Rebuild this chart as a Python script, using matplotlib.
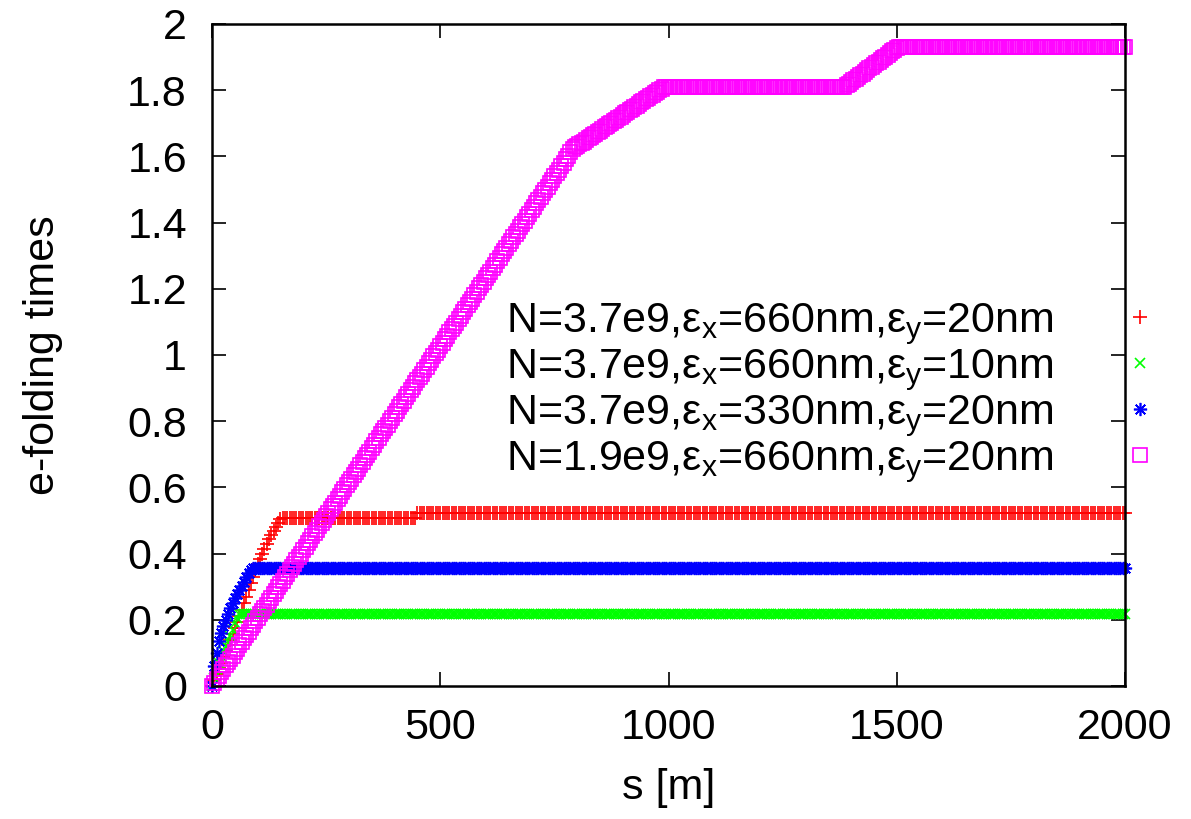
import numpy as np
import matplotlib
matplotlib.use("Agg")
import matplotlib.pyplot as plt

plt.rcParams['font.family'] = ['Liberation Sans', 'DejaVu Sans']
plt.rcParams['mathtext.fontset'] = 'custom'
plt.rcParams['mathtext.rm'] = 'Liberation Sans'
plt.rcParams['mathtext.it'] = 'Liberation Sans'

# sampling positions along s [m]
s = np.arange(0, 2001, 5)

# N=3.7e9, ex=660nm, ey=20nm
red_vals = ([0, 0.018, 0.035, 0.053, 0.07, 0.088, 0.105, 0.123, 0.14, 0.158,
             0.175, 0.193, 0.21, 0.23, 0.25, 0.27, 0.29, 0.31, 0.33, 0.35,
             0.37, 0.385, 0.40, 0.415, 0.43, 0.443, 0.455, 0.468, 0.48, 0.493, 0.505]
            + [0.508] * 59 + [0.523] * 311)

# N=3.7e9, ex=660nm, ey=10nm
green_vals = ([0, 0.025, 0.05, 0.07, 0.09, 0.105, 0.12, 0.135, 0.15, 0.17, 0.19, 0.205]
              + [0.218] * 389)

# N=3.7e9, ex=330nm, ey=20nm
blue_vals = ([0, 0.06, 0.1, 0.135, 0.16, 0.18, 0.2, 0.218, 0.235, 0.25, 0.265, 0.278,
              0.29, 0.303, 0.315, 0.328, 0.34, 0.35]
             + [0.357] * 383)

# N=1.9e9, ex=660nm, ey=20nm
magenta_vals = ([0.000, 0.010, 0.021, 0.031, 0.041, 0.051, 0.062, 0.072, 0.082, 0.092,
                 0.103, 0.113, 0.123, 0.133, 0.144, 0.154, 0.164, 0.175, 0.185, 0.195,
                 0.205, 0.216, 0.226, 0.236, 0.246, 0.257, 0.267, 0.277, 0.287, 0.298,
                 0.308, 0.318, 0.328, 0.339, 0.349, 0.359, 0.370, 0.380, 0.390, 0.400,
                 0.411, 0.421, 0.431, 0.441, 0.452, 0.462, 0.472, 0.482, 0.493, 0.503,
                 0.513, 0.524, 0.534, 0.544, 0.554, 0.565, 0.575, 0.585, 0.595, 0.606,
                 0.616, 0.626, 0.636, 0.647, 0.657, 0.667, 0.678, 0.688, 0.698, 0.708,
                 0.719, 0.729, 0.739, 0.749, 0.760, 0.770, 0.780, 0.790, 0.801, 0.811,
                 0.821, 0.831, 0.842, 0.852, 0.862, 0.873, 0.883, 0.893, 0.903, 0.914,
                 0.924, 0.934, 0.944, 0.955, 0.965, 0.975, 0.985, 0.996, 1.006, 1.016,
                 1.027, 1.037, 1.047, 1.057, 1.068, 1.078, 1.088, 1.098, 1.109, 1.119,
                 1.129, 1.139, 1.150, 1.160, 1.170, 1.180, 1.191, 1.201, 1.211, 1.222,
                 1.232, 1.242, 1.252, 1.263, 1.273, 1.283, 1.293, 1.304, 1.314, 1.324,
                 1.334, 1.345, 1.355, 1.365, 1.376, 1.386, 1.396, 1.406, 1.417, 1.427,
                 1.437, 1.447, 1.458, 1.468, 1.478, 1.488, 1.499, 1.509, 1.519, 1.529,
                 1.540, 1.550, 1.560, 1.571, 1.581, 1.591, 1.601, 1.612, 1.622]
                + [1.627, 1.631, 1.636, 1.641, 1.645, 1.650, 1.655, 1.660, 1.664, 1.669,
                   1.674, 1.678, 1.683, 1.688, 1.692, 1.697, 1.702, 1.706, 1.711, 1.716,
                   1.720, 1.725, 1.730, 1.735, 1.739, 1.744, 1.749, 1.753, 1.758, 1.763,
                   1.767, 1.772, 1.777, 1.781, 1.786, 1.791, 1.795, 1.800, 1.805, 1.810]
                + [1.81] * 79
                + [1.815, 1.820, 1.825, 1.830, 1.835, 1.840, 1.845, 1.850, 1.856, 1.861,
                   1.866, 1.871, 1.876, 1.881, 1.886, 1.891, 1.896, 1.901, 1.906, 1.912,
                   1.917, 1.922, 1.927, 1.932]
                + [1.932] * 99)

labels = [r'N=3.7e9,ε$_\mathrm{x}$=660nm,ε$_\mathrm{y}$=20nm',
          r'N=3.7e9,ε$_\mathrm{x}$=660nm,ε$_\mathrm{y}$=10nm',
          r'N=3.7e9,ε$_\mathrm{x}$=330nm,ε$_\mathrm{y}$=20nm',
          r'N=1.9e9,ε$_\mathrm{x}$=660nm,ε$_\mathrm{y}$=20nm']

xticks = [0, 500, 1000, 1500, 2000]
yticks = [0, 0.2, 0.4, 0.6, 0.8, 1, 1.2, 1.4, 1.6, 1.8, 2]
ytick_labels = ['0', '0.2', '0.4', '0.6', '0.8', '1', '1.2', '1.4', '1.6', '1.8', '2']

fig = plt.figure(figsize=(11.91, 8.19), dpi=100)
ax = fig.add_axes([0.178, 0.1624, 0.7666, 0.8083])

ms = 9.5
mw = 1.2
ax.plot(s, red_vals, linestyle='none', marker='+', ms=ms, mew=mw, color='#ff0000',
        clip_on=False, label=labels[0])
ax.plot(s, green_vals, linestyle='none', marker='x', ms=ms * 0.8, mew=mw, color='#00ff00',
        clip_on=False, label=labels[1])
ax.plot(s, blue_vals, linestyle='none', marker=(8, 2, 0), ms=ms, mew=mw, color='#0000ff',
        clip_on=False, label=labels[2])
ax.plot(s, magenta_vals, linestyle='none', marker='s', ms=ms * 1.05, mew=mw, color='#ff00ff',
        mfc='none', clip_on=False, label=labels[3])

ax.set_xlim(0, 2000)
ax.set_ylim(0, 2)
ax.set_xticks(xticks)
ax.set_yticks(yticks)
ax.set_yticklabels(ytick_labels)
ax.tick_params(direction='in', length=10, width=1.2, top=True, right=True,
               labelsize=31)
ax.tick_params(axis='y', pad=18)
ax.tick_params(axis='x', pad=16)
for sp in ax.spines.values():
    sp.set_linewidth(1.8)

ax.set_xlabel('s [m]', fontsize=31, labelpad=14)
ax.set_ylabel('e-folding times', fontsize=31, labelpad=46)

leg = ax.legend(loc='upper right', bbox_to_anchor=(1151 / 1191, 1 - 301 / 819),
                bbox_transform=fig.transFigure, frameon=False, markerfirst=False,
                fontsize=31, numpoints=1, handlelength=0.5, handletextpad=1.75,
                labelspacing=0.0, borderpad=0, borderaxespad=0)

fig.savefig('out.png', dpi=100)
